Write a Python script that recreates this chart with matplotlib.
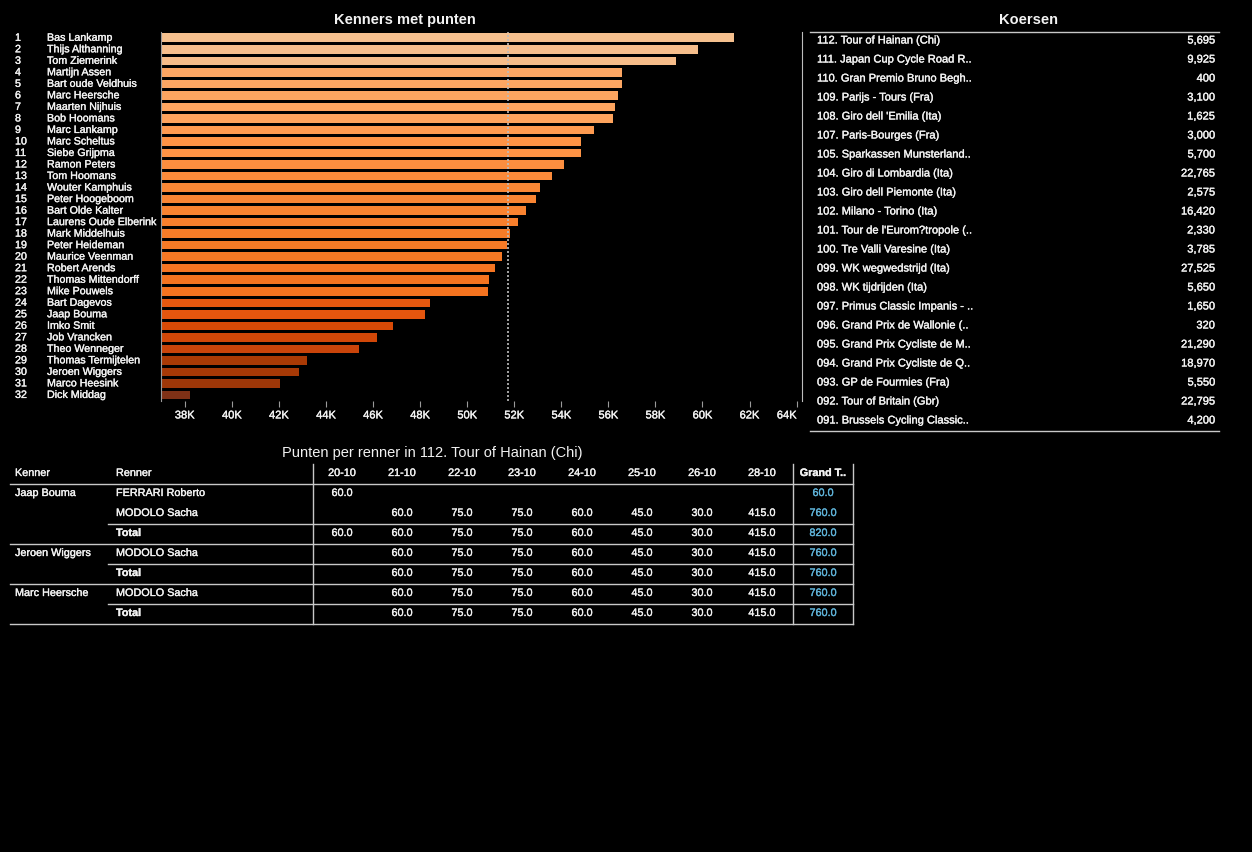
"""
Dashboard recreation: Kenners met punten, Koersen and Punten per renner.
"""

import numpy as np
import matplotlib
matplotlib.use("Agg")
import matplotlib.pyplot as plt
import matplotlib.transforms as mtransforms
import matplotlib.patheffects as pe
from matplotlib.colors import LinearSegmentedColormap

plt.rcParams["font.family"] = ["Liberation Sans", "DejaVu Sans"]

W, H = 1252, 853
TXT = "#f2f2f2"
LINE = "#c8c8c8"
BLUE = "#5fb3d9"

# kenners with their total points
KENNERS = [
    "Bas Lankamp", "Thijs Althanning", "Tom Ziemerink", "Martijn Assen",
    "Bart oude Veldhuis", "Marc Heersche", "Maarten Nijhuis", "Bob Hoomans",
    "Marc Lankamp", "Marc Scheltus", "Siebe Grijpma", "Ramon Peters",
    "Tom Hoomans", "Wouter Kamphuis", "Peter Hoogeboom", "Bart Olde Kalter",
    "Laurens Oude Elberink", "Mark Middelhuis", "Peter Heideman", "Maurice Veenman",
    "Robert Arends", "Thomas Mittendorff", "Mike Pouwels", "Bart Dagevos",
    "Jaap Bouma", "Imko Smit", "Job Vrancken", "Theo Wenneger",
    "Thomas Termijtelen", "Jeroen Wiggers", "Marco Heesink", "Dick Middag",
]
PUNTEN = [
    61340, 59810, 58880, 56580, 56580, 56410, 56290, 56200,
    55390, 54840, 54840, 54120, 53610, 53100, 52930, 52500,
    52160, 51820, 51680, 51480, 51190, 50930, 50890, 48420,
    48210, 46850, 46170, 45410, 43200, 42860, 42050, 38230,
]
X_TICKS = [38000 + 2000 * i for i in range(14)]

# races (Koersen)
KOERSEN = [
    "112. Tour of Hainan (Chi)", "111. Japan Cup Cycle Road R..",
    "110. Gran Premio Bruno Begh..", "109. Parijs - Tours (Fra)",
    "108. Giro dell 'Emilia (Ita)", "107. Paris-Bourges (Fra)",
    "105. Sparkassen Munsterland..", "104. Giro di Lombardia (Ita)",
    "103. Giro dell Piemonte (Ita)", "102. Milano - Torino (Ita)",
    "101. Tour de l'Eurom?tropole (..", "100. Tre Valli Varesine (Ita)",
    "099. WK wegwedstrijd (Ita)", "098. WK tijdrijden (Ita)",
    "097. Primus Classic Impanis - ..", "096. Grand Prix de Wallonie (..",
    "095. Grand Prix Cycliste de M..", "094. Grand Prix Cycliste de Q..",
    "093. GP de Fourmies (Fra)", "092. Tour of Britain (Gbr)",
    "091. Brussels Cycling Classic..",
]
KOERS_PUNTEN = [
    5695, 9925, 400, 3100, 1625, 3000, 5700, 22765, 2575, 16420, 2330,
    3785, 27525, 5650, 1650, 320, 21290, 18970, 5550, 22795, 4200,
]

# points per rider in the selected race
RACE = "112. Tour of Hainan (Chi)"
DATES = ["20-10", "21-10", "22-10", "23-10", "24-10", "25-10", "26-10", "28-10"]
PICK_KENNER = ["Jaap Bouma", "Jaap Bouma", "Jeroen Wiggers", "Marc Heersche"]
PICK_RENNER = ["FERRARI Roberto", "MODOLO Sacha", "MODOLO Sacha", "MODOLO Sacha"]
FERRARI_PTS = [60, np.nan, np.nan, np.nan, np.nan, np.nan, np.nan, np.nan]
MODOLO_PTS = [np.nan, 60, 75, 75, 60, 45, 30, 415]
RENNER_PTS = {"FERRARI Roberto": FERRARI_PTS, "MODOLO Sacha": MODOLO_PTS}


def px_axes(fig, x0, y0, x1, y1):
    return fig.add_axes([x0 / W, 1 - y1 / H, (x1 - x0) / W, (y1 - y0) / H])


def heavy(color, lw=0.25):
    # browser-style text looks a bit heavier than plain agg text
    return [pe.withStroke(linewidth=lw, foreground=color)]


def txt(a, x, y, s, color=TXT, size=8, **kw):
    kw.setdefault("ha", "left")
    kw.setdefault("va", "center")
    return a.text(x, y, s, color=color, fontsize=size, path_effects=heavy(color), **kw)


fig = plt.figure(figsize=(W / 100, H / 100), dpi=100, facecolor="black")

# canvas in pixel coordinates for titles and tables
cv = fig.add_axes([0, 0, 1, 1], facecolor="black")
cv.set_xlim(0, W)
cv.set_ylim(H, 0)
cv.axis("off")

# ---- bar chart
ax = px_axes(fig, 161, 33, 802, 401.7)
ax.set_facecolor("black")
vals = np.array(PUNTEN, dtype=float)
cmap = LinearSegmentedColormap.from_list("oranges_custom", [
    (0.00, "#7f3116"), (0.17, "#9f3708"), (0.22, "#aa3a05"), (0.31, "#c9440a"),
    (0.375, "#d94a06"), (0.43, "#e5560e"), (0.55, "#f4731f"), (0.62, "#f98330"),
    (0.72, "#fd9346"), (0.78, "#fda35d"), (0.90, "#f6bd8b"), (1.00, "#f5c08e"),
])
norm = (vals - vals.min()) / (vals.max() - vals.min())
ypos = np.arange(len(KENNERS))
ax.barh(ypos, vals, height=0.74, color=cmap(norm), zorder=2)
ax.axvline(vals.mean(), color="#bdbdbd", lw=1.2, ls=(0, (1.2, 1.2)), zorder=3)

ax.set_xlim(36990, 64230)
ax.set_ylim(len(KENNERS) - 0.5, -0.5)
ax.set_yticks([])
ax.set_xticks(X_TICKS)
ax.set_xticklabels([f"{t // 1000}K" for t in X_TICKS])
ax.tick_params(axis="x", length=4, color="#9a9a9a", labelcolor=TXT, labelsize=8, pad=3)
for lab in ax.get_xticklabels():
    lab.set_path_effects(heavy(TXT))
ax.get_xticklabels()[-1].set_horizontalalignment("right")
for s in ["top", "bottom"]:
    ax.spines[s].set_visible(False)
ax.spines["left"].set_color("#9a9a9a")
ax.spines["right"].set_color("#bdbdbd")

trans = mtransforms.blended_transform_factory(fig.transFigure, ax.transData)
for i, name in enumerate(KENNERS):
    txt(ax, 15 / W, i, str(i + 1), size=7.7, transform=trans, clip_on=False)
    txt(ax, 47 / W, i, name, size=7.7, transform=trans, clip_on=False)

cv.text(405, 20, "Kenners met punten", color=TXT, fontsize=10.5, fontweight="bold",
        ha="center", va="center")

# ---- Koersen list
cv.text(1028, 20, "Koersen", color=TXT, fontsize=10.5, fontweight="bold",
        ha="center", va="center")
cv.plot([810, 1219], [33, 33], color=LINE, lw=1)
cv.plot([810, 1219], [432, 432], color=LINE, lw=1)
for i, (k, p) in enumerate(zip(KOERSEN, KOERS_PUNTEN)):
    y = 41.5 + 19 * i
    txt(cv, 817, y, k)
    txt(cv, 1215, y, f"{p:,}", ha="right")

# ---- points per rider table
cv.text(432, 453, f"Punten per renner in {RACE}", color=TXT, fontsize=10.5,
        ha="center", va="center")
col_x = [342 + 60 * i for i in range(len(DATES))]
grand_x = 823
TS = 7.8
txt(cv, 15, 474, "Kenner", size=TS)
txt(cv, 116, 474, "Renner", size=TS)
for x, d in zip(col_x, DATES):
    txt(cv, x, 474, d, size=TS, ha="center")
txt(cv, grand_x, 474, "Grand T..", size=TS, fontweight="bold", ha="center")
cv.plot([10, 853], [485, 485], color=LINE, lw=1)


def fmt(v):
    return "" if np.isnan(v) else f"{v:.1f}"


row_y = 494
for kenner in dict.fromkeys(PICK_KENNER):
    renners = [r for k, r in zip(PICK_KENNER, PICK_RENNER) if k == kenner]
    total = np.zeros(len(DATES))
    has = np.zeros(len(DATES), dtype=bool)
    for j, r in enumerate(renners):
        pts = np.array(RENNER_PTS[r], dtype=float)
        if j == 0:
            txt(cv, 15, row_y, kenner, size=TS)
        txt(cv, 116, row_y, r, size=TS)
        for x, v in zip(col_x, pts):
            txt(cv, x, row_y, fmt(v), size=TS, ha="center")
        txt(cv, grand_x, row_y, fmt(np.nansum(pts)), color=BLUE, size=TS, ha="center")
        total += np.nan_to_num(pts)
        has |= ~np.isnan(pts)
        row_y += 20
    cv.plot([108, 853], [row_y - 9, row_y - 9], color=LINE, lw=1)
    txt(cv, 116, row_y, "Total", size=TS, fontweight="bold")
    for x, v, h in zip(col_x, total, has):
        txt(cv, x, row_y, fmt(v) if h else "", size=TS, ha="center")
    txt(cv, grand_x, row_y, fmt(total.sum()), color=BLUE, size=TS, ha="center")
    row_y += 20
    cv.plot([10, 853], [row_y - 9, row_y - 9], color=LINE, lw=1)

for x in [313, 793, 853]:
    cv.plot([x, x], [465, row_y - 9], color=LINE, lw=1)

fig.savefig("out.png", dpi=100, facecolor="black")
